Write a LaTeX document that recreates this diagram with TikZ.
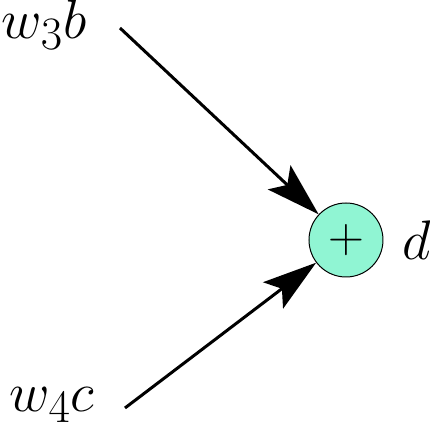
\documentclass[tikz,border=0pt]{standalone}
\usepackage{tikz}
\usetikzlibrary{arrows.meta,positioning}

\definecolor{sumfill}{HTML}{90F5D3}

\begin{document}
\begin{tikzpicture}[x=0.5pt, y=-0.5pt,
    every node/.style={font=\Huge},
    lbl/.style={scale=1.12, inner sep=0.5pt},
    sumnode/.style={circle, draw, line width=0.5pt, fill=sumfill, minimum size=37pt, inner sep=0pt},
    arrow/.style={-{Stealth[length=27pt, width=16.5pt, inset=5.5pt]}, line width=1.5pt}]

    \useasboundingbox (0,0) rectangle (430,427);

    \node[sumnode] (sum) at (346,240) {$+$};
    \node[lbl, right=8.5pt of sum] (d) {$d$};
    \node[lbl, anchor=east] (w3b) at (88,25) {$w_3b$};
    \node[lbl, anchor=east] (w4c) at (96,405) {$w_4c$};

    \draw[arrow] (w3b.east) ++(32,3) -- (sum);
    \draw[arrow] (w4c.east) ++(29,3) -- (sum);
\end{tikzpicture}
\end{document}
